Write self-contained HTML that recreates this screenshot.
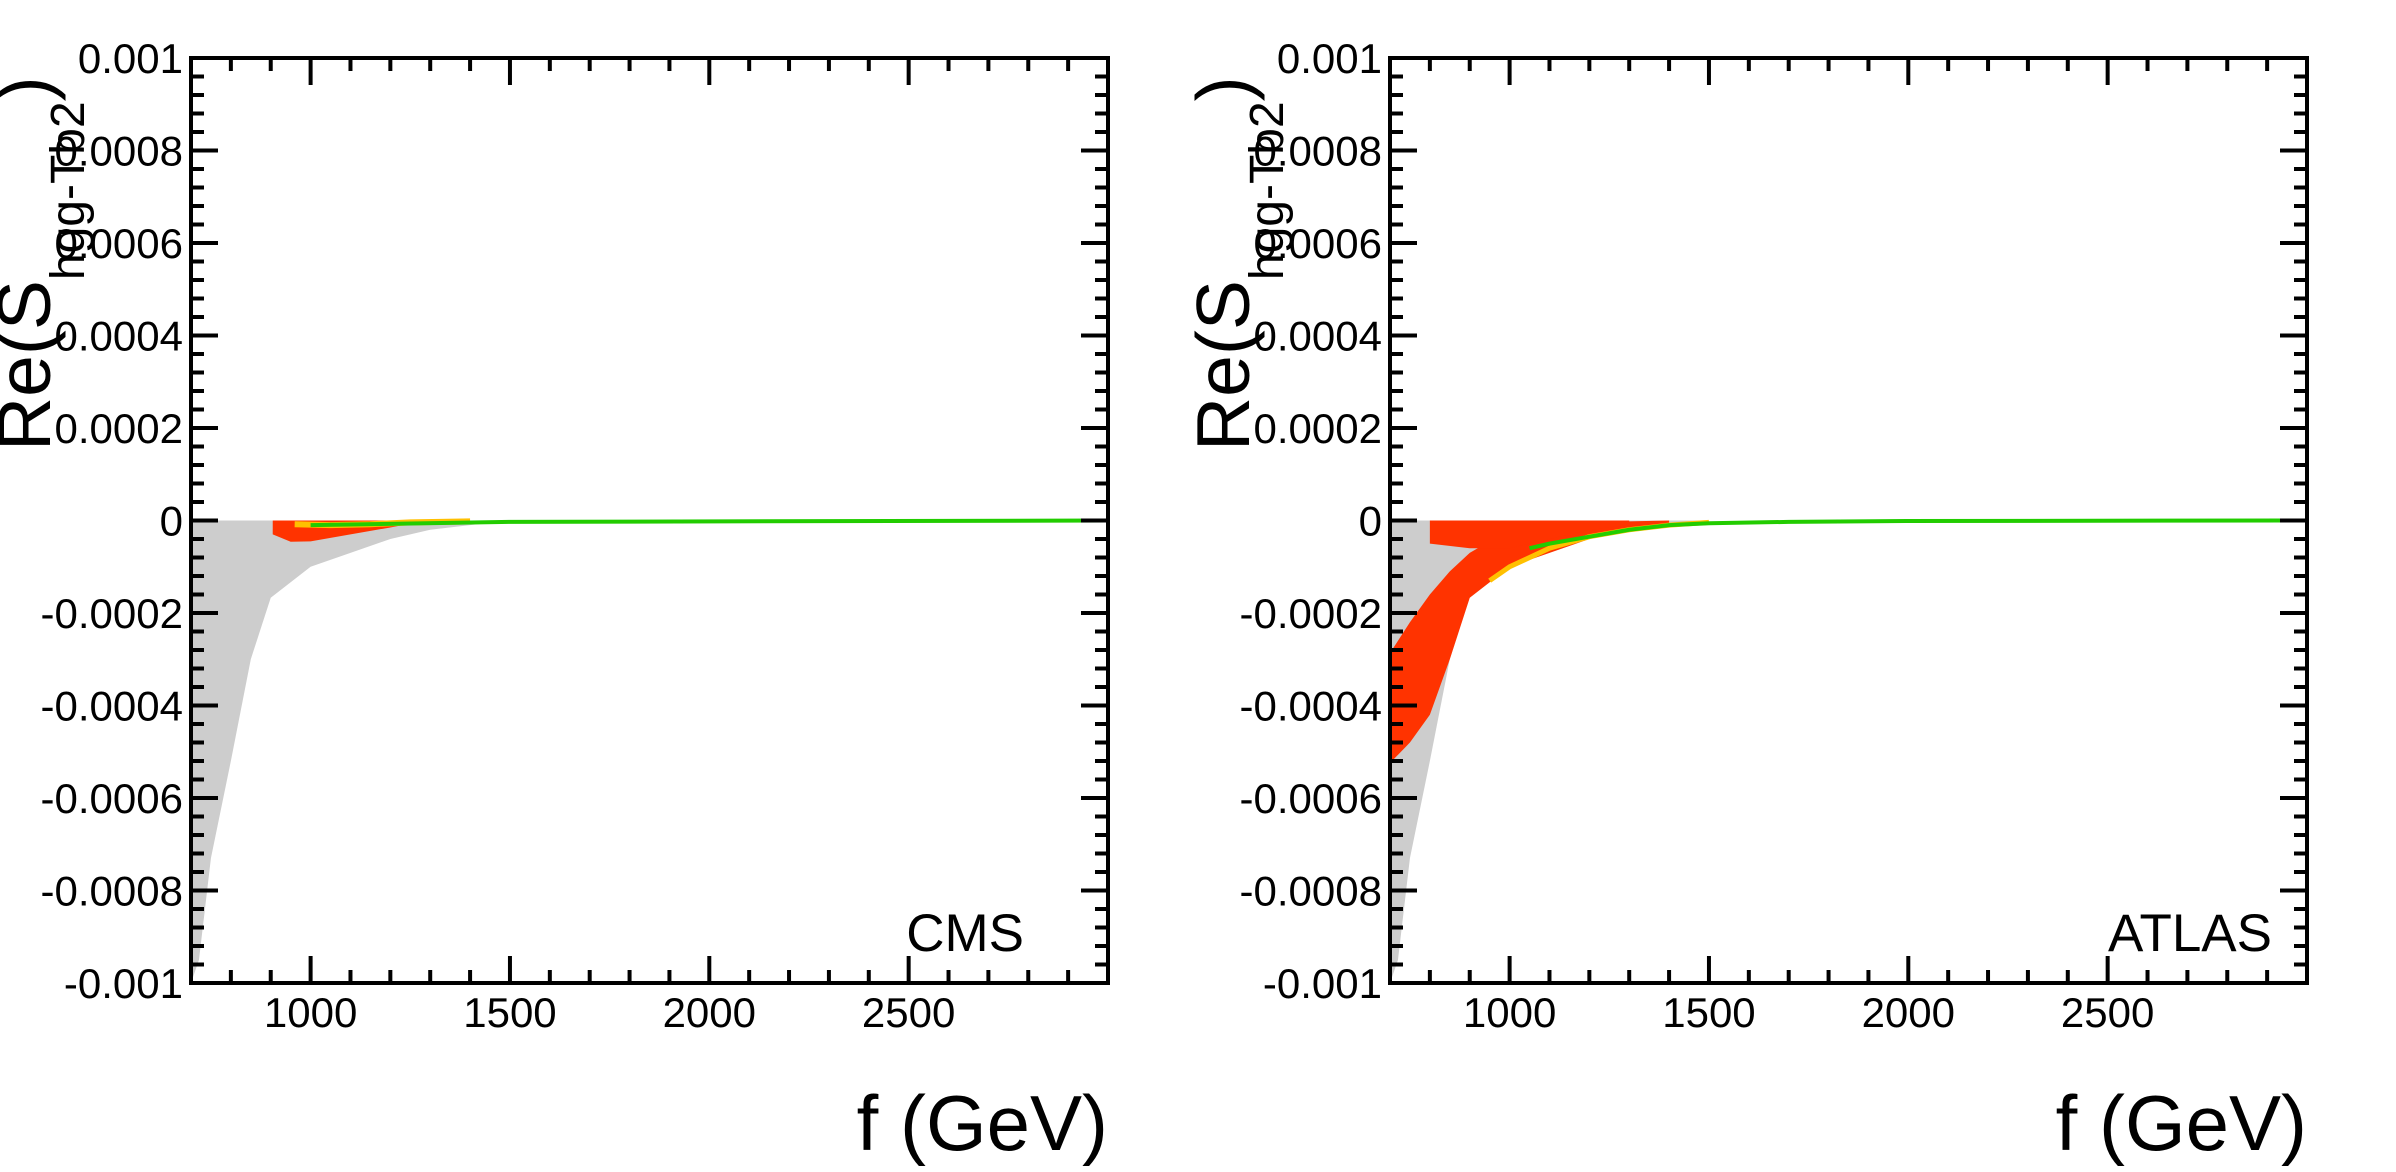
<!DOCTYPE html>
<html><head><meta charset="utf-8"><style>
html,body{margin:0;padding:0;background:#fff;}
svg{display:block;font-family:"Liberation Sans",Arial,sans-serif;}
</style></head><body>
<svg id="chart" width="2396" height="1172" viewBox="0 0 2396 1172" xmlns="http://www.w3.org/2000/svg"></svg>
<script>
// ---- data ----
const xTicks = [1000, 1500, 2000, 2500];
const yTicks = [-0.001, -0.0008, -0.0006, -0.0004, -0.0002, 0, 0.0002, 0.0004, 0.0006, 0.0008, 0.001];
const yTickLabels = ["-0.001","-0.0008","-0.0006","-0.0004","-0.0002","0","0.0002","0.0004","0.0006","0.0008","0.001"];
// lower envelope of gray scan points
const envF   = [700, 720, 750, 800, 850, 900, 1000, 1100, 1200, 1300, 1400, 1500];
const envLow = [-0.001, -0.00095, -0.00073, -0.00052, -0.0003, -0.000167, -0.0001, -0.00007, -0.00004, -0.00002, -0.00001, 0];
// CMS red blob
const cmsRedF   = [905, 950, 1000, 1100, 1200, 1260];
const cmsRedLow = [-0.00003, -0.000046, -0.000045, -0.00003, -0.000015, -0.000005];
// ATLAS red: outer band (near lower envelope) and inner band
const atlRedF    = [705, 750, 800, 850, 900, 1000, 1100, 1200, 1300, 1400];
const atlRedLow  = [-0.00052, -0.00048, -0.00042, -0.0003, -0.000167, -0.0001, -0.00007, -0.00004, -0.00002, -0.00001];
const atlRedHigh = [-0.00028, -0.00022, -0.00016, -0.00011, -0.00007, -0.00002, -0.00001, -0.000005, -0.000002, 0];
const atlTopF    = [800, 900, 1000, 1100, 1200, 1300];
const atlTopLow  = [-0.00005, -0.00006, -0.00006, -0.00004, -0.00002, -0.00001];
// orange strip & green line near the curve (ATLAS)
const atlOrgF = [950, 1000, 1100, 1200, 1300, 1400, 1500];
const atlOrgY = [-0.00013, -0.0001, -0.00006, -0.000035, -0.00002, -0.00001, -0.000004];
const greenF  = [1050, 1100, 1200, 1300, 1400, 1500, 1700, 2000, 3000];
const greenY  = [-0.00006, -0.00005, -0.000035, -0.00002, -0.00001, -0.000006, -0.000003, -0.000001, 0];

const svg = document.getElementById('chart');
const NS = 'http://www.w3.org/2000/svg';
function el(tag, attrs, parent){ const e=document.createElementNS(NS,tag); for(const k in attrs) e.setAttribute(k,attrs[k]); (parent||svg).appendChild(e); return e; }

function panel(ox, label, isAtlas){
  const L=ox+191, R=ox+1108, T=58, B=983;
  const X = f => L + (f-700)/(3000-700)*(R-L);
  const Y = v => T + (0.001-v)/0.002*(B-T);
  const g = el('g',{});
  
  
  const area = (fs, lo, hi, color, name) => {
    let d='M'+X(fs[0])+','+Y(hi?hi[0]:0);
    for(let i=0;i<fs.length;i++) d+=' L'+X(fs[i])+','+Y(hi?hi[i]:0);
    for(let i=fs.length-1;i>=0;i--) d+=' L'+X(fs[i])+','+Y(lo[i]);
    const p=el('path',{d:d+'Z',fill:color},g);
    
    
  };
  const line = (fs, ys, color, w, name) => {
    const p=el('polyline',{points:fs.map((f,i)=>X(f)+','+Y(ys[i])).join(' '),fill:'none',stroke:color,'stroke-width':w},g);
    
    
  };
  area(envF, envLow, null, '#cdcdcd', 'gray-points-region');
  if(!isAtlas){
    area(cmsRedF, cmsRedLow, null, '#ff3300', 'red-points-region');
    line([960,1050,1150,1250,1400],[-0.000008,-0.00001,-0.000008,-0.000004,-0.000002],'#ffc000',6,'orange-points');
  } else {
    area(atlRedF, atlRedLow, atlRedHigh, '#ff3300', 'red-points-band');
    area(atlTopF, atlTopLow, null, '#ff3300', 'red-points-top');
    line(atlOrgF, atlOrgY, '#ffc000', 5, 'orange-points');
  }
  line(isAtlas?greenF:[1000,1500,3000], isAtlas?greenY:[-0.00001,-0.000003,0], '#22cc00', 4, 'green-points');
  const fr=el('rect',{x:L,y:T,width:R-L,height:B-T,fill:'none',stroke:'#000','stroke-width':4},g);
  
  
  for(let f=800; f<3000; f+=100){
    const major = f%500===0, len = major?27:13;
    el('line',{x1:X(f),x2:X(f),y1:B,y2:B-len,stroke:'#000','stroke-width':4},g);
    el('line',{x1:X(f),x2:X(f),y1:T,y2:T+len,stroke:'#000','stroke-width':4},g);
  }
  xTicks.forEach(f=>{
    const t=el('text',{x:X(f),y:1027,'font-size':42,'text-anchor':'middle'},g);
    t.textContent=f;
    
    
  });
  for(let i=0;i<=50;i++){
    const v=-0.001+i*0.00004, major=i%5===0, len=major?27:13;
    el('line',{x1:L,x2:L+len,y1:Y(v),y2:Y(v),stroke:'#000','stroke-width':4},g);
    el('line',{x1:R,x2:R-len,y1:Y(v),y2:Y(v),stroke:'#000','stroke-width':4},g);
  }
  yTicks.forEach((v,i)=>{
    const t=el('text',{x:L-8,y:Y(v)+15,'font-size':42,'text-anchor':'end'},g);
    t.textContent=yTickLabels[i];
    
    
  });
  const xt=el('text',{x:R,y:1150,'font-size':78,'text-anchor':'end'},g);
  xt.textContent='f (GeV)';
  
  
  const yt=el('text',{transform:'translate('+(ox+50)+',451) rotate(-90)','font-size':75},g);
  
  
  const s1=el('tspan',{},yt); s1.textContent='Re(S';
  const s2=el('tspan',{dy:34,'font-size':48},yt); s2.textContent='hgg-Tb2';
  const s3=el('tspan',{dy:-34},yt); s3.textContent=')';
  const lb=el('text',{x:isAtlas?ox+1073:ox+1024,y:951,'font-size':53,'text-anchor':'end'},g);
  lb.textContent=label;
  
  
}
panel(0,'CMS',false);
panel(1199,'ATLAS',true);
</script>
</body></html>
